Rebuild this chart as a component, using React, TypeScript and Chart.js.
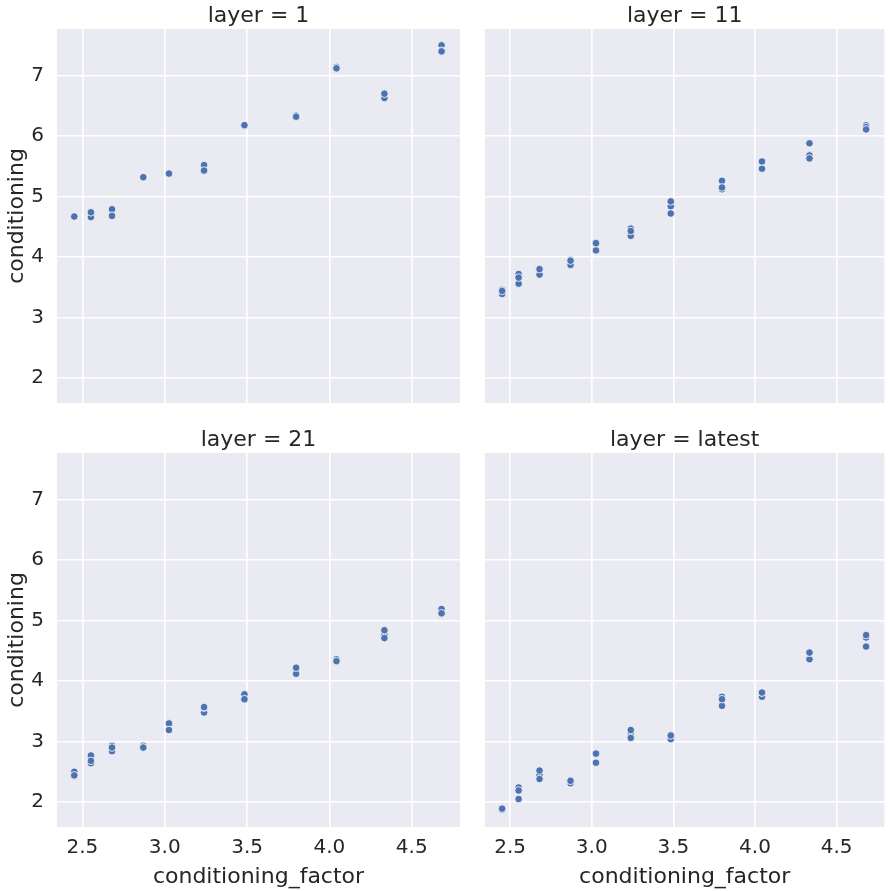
import React, { useEffect, useRef } from "react";
import { Chart, registerables } from "chart.js";

Chart.register(...registerables);

const FONT = "'DejaVu Sans', 'Liberation Sans', sans-serif";
const TEXT_COLOR = "#262626";
const BG = "#EAEAF2";
const POINT_COLOR = "#4C72B0";

// Data
const conditioningFactor = [2.451, 2.552, 2.68, 2.87, 3.026, 3.239, 3.484, 3.798, 4.043, 4.334, 4.681];

const layer1 = [
  [4.66, 4.67, 4.67],
  [4.67, 4.66, 4.74],
  [4.79, 4.68, 4.68],
  [5.32, 5.31, 5.32],
  [5.38, 5.37, 5.38],
  [5.52, 5.42, 5.43],
  [6.18, 6.17, 6.18],
  [6.34, 6.31, 6.32],
  [7.14, 7.11, 7.12],
  [6.63, 6.71, 6.7],
  [7.5, 7.41, 7.4],
];

const layer11 = [
  [3.39, 3.46, 3.44],
  [3.72, 3.56, 3.66],
  [3.79, 3.71, 3.8],
  [3.87, 3.95, 3.94],
  [4.24, 4.11, 4.23],
  [4.47, 4.35, 4.43],
  [4.84, 4.72, 4.92],
  [5.12, 5.26, 5.15],
  [5.57, 5.46, 5.58],
  [5.88, 5.68, 5.63],
  [6.18, 6.15, 6.11],
];

const layer21 = [
  [2.5, 2.43, 2.44],
  [2.64, 2.77, 2.68],
  [2.93, 2.84, 2.9],
  [2.93, 2.9, 2.9],
  [3.3, 3.19, 3.19],
  [3.48, 3.56, 3.57],
  [3.78, 3.69, 3.7],
  [4.21, 4.12, 4.22],
  [4.36, 4.32, 4.33],
  [4.77, 4.71, 4.84],
  [5.19, 5.11, 5.12],
];

const layerLatest = [
  [1.87, 1.89, 1.89],
  [2.24, 2.05, 2.19],
  [2.45, 2.38, 2.52],
  [2.31, 2.36, 2.35],
  [2.8, 2.65, 2.8],
  [3.14, 3.06, 3.19],
  [3.04, 3.11, 3.1],
  [3.74, 3.59, 3.7],
  [3.74, 3.81, 3.81],
  [4.36, 4.47, 4.47],
  [4.72, 4.57, 4.76],
];

const panelTitles = ["layer = 1", "layer = 11", "layer = 21", "layer = latest"];
const xTicks = [2.5, 3.0, 3.5, 4.0, 4.5];
const xTickLabels = ["2.5", "3.0", "3.5", "4.0", "4.5"];
const yTicks = [2, 3, 4, 5, 6, 7];
const yTickLabels = ["2", "3", "4", "5", "6", "7"];
const xLabel = "conditioning_factor";
const yLabel = "conditioning";

const X_MIN = 2.346;
const X_MAX = 4.793;
const Y_MIN = 1.587;
const Y_MAX = 7.77;

type PanelProps = {
  title: string;
  values: number[][];
  showX: boolean;
  showY: boolean;
  left: number;
  top: number;
  width: number;
  height: number;
  padTop: number;
  padRight: number;
  xAxisH: number;
};

function Panel(props: PanelProps) {
  const ref = useRef<HTMLCanvasElement | null>(null);
  useEffect(() => {
    const canvas = ref.current;
    if (!canvas) return;
    const points: { x: number; y: number }[] = [];
    conditioningFactor.forEach((x, i) => {
      props.values[i].forEach((y) => points.push({ x, y }));
    });

    const facetPlugin = {
      id: "facet",
      beforeDraw(chart: any) {
        const { ctx, chartArea } = chart;
        ctx.save();
        ctx.fillStyle = BG;
        ctx.fillRect(chartArea.left, chartArea.top, chartArea.right - chartArea.left, chartArea.bottom - chartArea.top);
        ctx.restore();
      },
      afterDraw(chart: any) {
        const { ctx, chartArea } = chart;
        const cx = (chartArea.left + chartArea.right) / 2;
        const cy = (chartArea.top + chartArea.bottom) / 2;
        ctx.save();
        ctx.fillStyle = TEXT_COLOR;
        ctx.font = `22px ${FONT}`;
        ctx.textAlign = "center";
        ctx.textBaseline = "alphabetic";
        ctx.fillText(props.title, cx, chartArea.top - 7.5);
        if (props.showX) {
          ctx.fillText(xLabel, cx, chartArea.bottom + 56);
        }
        if (props.showY) {
          ctx.save();
          ctx.translate(chartArea.left - 34, cy);
          ctx.rotate(-Math.PI / 2);
          ctx.fillText(yLabel, 0, 0);
          ctx.restore();
        }
        ctx.restore();
      },
    };

    const chart = new Chart(canvas, {
      type: "scatter",
      data: {
        datasets: [
          {
            data: points,
            backgroundColor: POINT_COLOR,
            borderColor: "#ffffff",
            borderWidth: 0.8,
            pointRadius: 3.8,
            pointHoverRadius: 3.8,
          },
        ],
      },
      options: {
        responsive: false,
        animation: false,
        devicePixelRatio: 1,
        layout: { padding: { top: props.padTop, right: props.padRight, left: 0, bottom: 0 } },
        plugins: { legend: { display: false }, tooltip: { enabled: false }, title: { display: false } },
        scales: {
          x: {
            type: "linear",
            min: X_MIN,
            max: X_MAX,
            afterBuildTicks: (axis: any) => {
              axis.ticks = xTicks.map((v) => ({ value: v }));
            },
            afterFit: (scale: any) => {
              scale.height = props.xAxisH;
              scale.paddingLeft = 0;
              scale.paddingRight = 0;
            },
            grid: { color: "#ffffff", lineWidth: 1.6, drawTicks: false },
            border: { display: false },
            ticks: {
              display: props.showX,
              padding: 9,
              color: TEXT_COLOR,
              font: { family: FONT, size: 20 },
              autoSkip: false,
              maxRotation: 0,
              callback: (_v: any, i: number) => xTickLabels[i],
            },
          },
          y: {
            type: "linear",
            min: Y_MIN,
            max: Y_MAX,
            afterBuildTicks: (axis: any) => {
              axis.ticks = yTicks.map((v) => ({ value: v }));
            },
            afterFit: (scale: any) => {
              scale.width = 57;
              scale.paddingTop = 0;
              scale.paddingBottom = 0;
            },
            grid: { color: "#ffffff", lineWidth: 1.6, drawTicks: false },
            border: { display: false },
            ticks: {
              display: props.showY,
              padding: 13,
              color: TEXT_COLOR,
              font: { family: FONT, size: 20 },
              autoSkip: false,
              callback: (_v: any, i: number) => yTickLabels[i],
            },
          },
        },
      },
      plugins: [facetPlugin],
    } as any);
    return () => chart.destroy();
  }, []);

  return (
    <canvas
      ref={ref}
      width={props.width}
      height={props.height}
      style={{
        position: "absolute",
        left: props.left,
        top: props.top,
        width: props.width,
        height: props.height,
      }}
    />
  );
}

export default function App() {
  return (
    <div style={{ position: "absolute", left: 0, top: 0, width: 889, height: 891, background: "#ffffff", overflow: "hidden" }}>
      <Panel title={panelTitles[0]} values={layer1} showX={false} showY={true} left={0} top={0} width={470} height={420} padTop={29} padRight={10} xAxisH={17} />
      <Panel title={panelTitles[1]} values={layer11} showX={false} showY={false} left={428} top={0} width={461} height={420} padTop={29} padRight={1} xAxisH={17} />
      <Panel title={panelTitles[2]} values={layer21} showX={true} showY={true} left={0} top={420} width={470} height={471} padTop={33} padRight={10} xAxisH={64} />
      <Panel title={panelTitles[3]} values={layerLatest} showX={true} showY={false} left={428} top={420} width={461} height={471} padTop={33} padRight={1} xAxisH={64} />
    </div>
  );
}
